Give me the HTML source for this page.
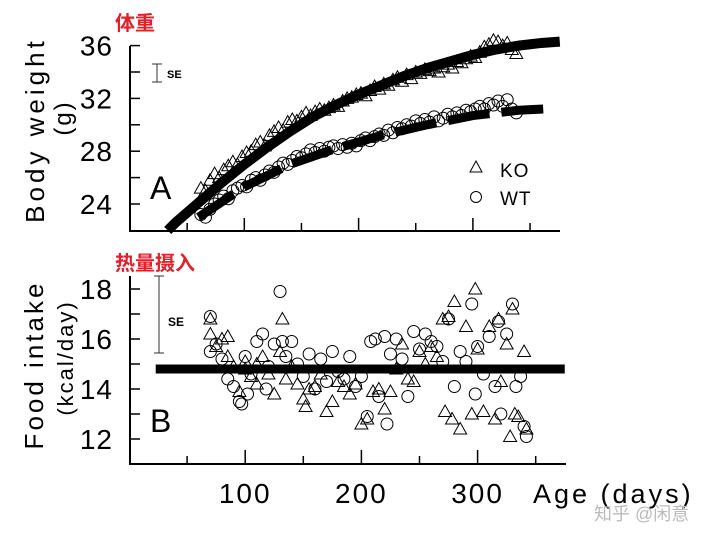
<!DOCTYPE html>
<html><head><meta charset="utf-8">
<style>
html,body{margin:0;padding:0;background:#fff;}
svg{display:block;}
text{font-family:"Liberation Sans","Noto Sans CJK SC",sans-serif;}
</style></head>
<body>
<svg id="fig" width="720" height="537" viewBox="0 0 720 537">
</svg>
<script>
// ---- Data ----
const koWeightDays = [62,66,70,74,78,82,86,90,94,98,102,106,110,114,118,122,126,130,134,138,142,146,150,154,158,162,166,170,174,178,182,186,190,194,198,202,206,210,214,218,222,226,230,234,238,242,246,250,254,258,262,266,270,274,278,282,286,290,294,298,302,306,310,314,318,322,326,330,334,338];
const koWeight = [25.2,25.0,25.8,26.3,26.0,26.6,26.9,27.2,27.0,27.6,27.9,28.0,28.5,28.7,28.4,29.2,29.5,29.8,29.6,30.2,30.4,30.3,30.6,30.9,30.7,31.0,31.2,31.1,31.3,31.5,31.4,31.8,32.0,32.1,32.3,32.4,32.2,32.6,32.9,32.7,33.1,33.0,33.4,33.6,33.3,33.8,33.5,34.0,33.9,34.2,34.1,34.3,34.0,34.4,34.6,34.3,34.8,34.7,35.0,35.2,35.1,35.5,35.9,36.1,36.4,36.3,36.0,36.2,35.7,35.4];
const wtWeightDays = [62,66,70,74,78,82,86,90,94,98,102,106,110,114,118,122,126,130,134,138,142,146,150,154,158,162,166,170,174,178,182,186,190,194,198,202,206,210,214,218,222,226,230,234,238,242,246,250,254,258,262,266,270,274,278,282,286,290,294,298,302,306,310,314,318,322,326,330,334,338];
const wtWeight = [23.2,23.0,23.6,24.0,24.3,24.6,24.4,25.0,25.2,25.4,25.3,25.8,26.0,25.8,26.2,26.5,26.4,26.8,27.1,27.0,27.3,27.6,27.5,27.8,28.1,27.9,28.2,28.0,28.3,28.4,28.2,28.5,28.3,28.6,28.4,28.8,29.0,28.8,29.1,29.3,29.2,29.6,29.4,29.8,29.7,30.0,29.9,30.3,30.1,30.4,30.2,30.6,30.3,30.5,30.8,30.6,30.9,30.7,31.1,31.0,31.2,31.4,31.2,31.6,31.5,31.8,31.4,31.9,31.2,30.9];
const koFitDays = [33,40,60,80,100,120,140,160,180,200,220,240,260,280,300,320,340,360,376];
const koFit = [22.0,22.6,24.1,25.6,27.0,28.3,29.5,30.6,31.5,32.3,33.0,33.7,34.3,34.8,35.3,35.7,36.0,36.2,36.3];
const wtFitDays = [60,100,140,180,220,260,300,340,362];
const wtFit = [23.0,25.3,27.0,28.2,29.2,30.0,30.7,31.1,31.2];
const koIntakeDays = [70,70,75,80,85,85,90,95,100,100,105,110,110,115,120,125,130,132,135,140,145,150,152,155,160,165,170,175,180,185,190,195,200,205,210,215,220,225,230,235,240,245,250,255,260,265,270,272,275,278,280,285,290,295,298,300,305,310,315,318,320,325,328,330,332,335,340,342];
const koIntake = [16.8,16.2,15.7,16.0,15.3,16.1,14.9,13.9,14.8,15.1,14.5,15.0,14.2,15.3,14.6,13.8,15.5,16.8,14.4,14.9,14.2,13.6,13.3,14.0,14.1,14.6,13.1,13.5,14.3,14.1,13.8,14.2,12.6,12.8,13.9,14.0,13.2,13.9,14.8,15.8,14.4,14.3,15.5,15.0,15.7,15.3,16.8,13.1,16.9,12.8,17.5,12.4,16.5,13.0,18.0,15.6,13.1,16.5,12.8,16.8,14.3,15.8,12.1,17.2,13.0,12.9,15.5,12.4];
const wtIntakeDays = [70,70,75,80,85,90,95,97,100,102,105,110,115,118,120,125,130,132,135,140,145,150,155,160,165,170,175,180,185,190,195,200,205,208,212,215,220,222,225,230,235,240,245,250,255,260,265,270,275,280,285,290,295,298,300,305,310,315,318,320,325,330,333,337,340,342];
const wtIntake = [16.9,15.5,15.8,15.2,14.4,14.1,13.5,13.4,15.3,13.8,14.6,15.9,16.2,14.0,14.9,15.8,17.9,15.9,15.3,15.9,15.0,14.5,15.4,14.0,15.2,14.3,15.5,14.7,14.4,15.3,14.1,14.5,12.9,15.9,16.0,13.7,16.1,12.6,15.4,16.0,15.2,13.7,16.3,15.6,16.2,15.9,15.7,15.1,16.8,14.1,15.5,15.1,17.4,13.8,15.7,14.6,16.1,14.1,16.7,13.0,16.2,17.4,14.1,14.5,12.5,12.1];
const intakeFitDays = [23,375];
const intakeFit = [14.8,14.8];
const weightTicks = [24,28,32,36];
const intakeTicks = [12,14,16,18];
const dayTicks = [100,200,300];

// ---- Axes ----
const xA = d => 130 + 1.143*d;
const yA = v => 204 - (v-24)*13.2;
const xB = d => 129 + 1.162*d;
const yB = v => 439 - (v-12)*25;

const svg = document.getElementById('fig');
const NS = 'http://www.w3.org/2000/svg';
function mk(tag, attrs, parent){
  const el = document.createElementNS(NS, tag);
  for (const k in attrs) el.setAttribute(k, attrs[k]);
  (parent||svg).appendChild(el);
  return el;
}
function txt(s, attrs){ const t = mk('text', attrs); t.textContent = s; return t; }

// Panel A axes
const axA = mk('path',{d:'M130,46 L130,231 L560,231',fill:'none',stroke:'#000','stroke-width':2});


[24,26,28,30,32,34,36].forEach(v=>{
  const t = mk('line',{x1:130,x2:140,y1:yA(v),y2:yA(v),stroke:'#000','stroke-width':1.5});
  
  
});
[50,100,150,200,250,300,350].forEach(d=>{
  const t = mk('line',{x1:xA(d),x2:xA(d),y1:231,y2:d%100===0?218:223,stroke:'#000','stroke-width':1.5});
  
  
});
weightTicks.forEach(v=>{
  const t = txt(String(v),{x:113,y:yA(v)+10,'text-anchor':'end','font-size':28,'letter-spacing':1});
  
  
});

// Panel B axes
const axB = mk('path',{d:'M130,276 L130,464 L566,464',fill:'none',stroke:'#000','stroke-width':2});


[12,13,14,15,16,17,18].forEach(v=>{
  const t = mk('line',{x1:130,x2:140,y1:yB(v),y2:yB(v),stroke:'#000','stroke-width':1.5});
  
  
});
[50,100,150,200,250,300,350].forEach(d=>{
  const t = mk('line',{x1:xB(d),x2:xB(d),y1:464,y2:d%100===0?450:456,stroke:'#000','stroke-width':1.5});
  
  
});
intakeTicks.forEach(v=>{
  const t = txt(String(v),{x:113,y:yB(v)+10,'text-anchor':'end','font-size':28,'letter-spacing':1});
  
  
});
dayTicks.forEach(d=>{
  const t = txt(String(d),{x:xB(d),y:503,'text-anchor':'middle','font-size':28,'letter-spacing':2});
  
  
});

// markers
function tri(x,y,name){
  const p = mk('path',{d:`M${x},${y-6.5} L${x+6.5},${y+5} L${x-6.5},${y+5} Z`,fill:'none',stroke:'#000','stroke-width':1});
  
  
}
function circ(x,y,name){
  const c = mk('circle',{cx:x,cy:y,r:6,fill:'none',stroke:'#000','stroke-width':1});
  
  
}
koWeightDays.forEach((d,i)=>tri(xA(d),yA(koWeight[i]),'ko-weight-point'));
wtWeightDays.forEach((d,i)=>circ(xA(d),yA(wtWeight[i]),'wt-weight-point'));
const koLine = mk('polyline',{points:koFitDays.map((d,i)=>xA(d)+','+yA(koFit[i])).join(' '),fill:'none',stroke:'#000','stroke-width':10});


const wtLine = mk('polyline',{points:wtFitDays.map((d,i)=>xA(d)+','+yA(wtFit[i])).join(' '),fill:'none',stroke:'#000','stroke-width':9,'stroke-dasharray':'42,12'});



koIntakeDays.forEach((d,i)=>tri(xB(d),yB(koIntake[i]),'ko-intake-point'));
wtIntakeDays.forEach((d,i)=>circ(xB(d),yB(wtIntake[i]),'wt-intake-point'));
const inLine = mk('polyline',{points:intakeFitDays.map((d,i)=>xB(d)+','+yB(intakeFit[i])).join(' '),fill:'none',stroke:'#000','stroke-width':9});


</script>

<svg width="720" height="537" style="position:absolute;left:0;top:0">
  <text x="115" y="30" font-size="20" font-weight="bold" fill="#e0202a">体重</text>
  <text x="115" y="270" font-size="20" font-weight="bold" fill="#e0202a">热量摄入</text>
  <text transform="translate(44,130) rotate(-90)" text-anchor="middle" font-size="26" letter-spacing="4">Body weight</text>
  <text transform="translate(71,118) rotate(-90)" text-anchor="middle" font-size="24" letter-spacing="2">(g)</text>
  <text transform="translate(43,365) rotate(-90)" text-anchor="middle" font-size="26" letter-spacing="3">Food intake</text>
  <text transform="translate(73,358) rotate(-90)" text-anchor="middle" font-size="22" letter-spacing="2">(kcal/day)</text>
  <text x="150" y="199" font-size="32">A</text>
  <text x="150" y="432" font-size="32">B</text>
  <g stroke="#333" stroke-width="1">
    <line x1="157" y1="64" x2="157" y2="82"/><line x1="152" y1="64" x2="162" y2="64"/><line x1="152" y1="82" x2="162" y2="82"/>
  </g>
  <text x="167" y="78" font-size="11" font-weight="bold">SE</text>
  <g stroke="#333" stroke-width="1">
    <line x1="159" y1="276" x2="159" y2="353"/><line x1="154" y1="276" x2="164" y2="276"/><line x1="154" y1="353" x2="164" y2="353"/>
  </g>
  <text x="168" y="326" font-size="12" font-weight="bold">SE</text>
  <path d="M476,161 L482,172 L470,172 Z" fill="none" stroke="#000"/>
  <text x="500" y="177" font-size="19" letter-spacing="1">KO</text>
  <circle cx="476" cy="197" r="5.5" fill="none" stroke="#000"/>
  <text x="500" y="205" font-size="19" letter-spacing="1">WT</text>
  <text x="533" y="503" font-size="27" letter-spacing="3">Age (days)</text>
  <text x="594" y="520" font-size="18" fill="#bbb">知乎 @闲意</text>
</svg>
</body></html>
